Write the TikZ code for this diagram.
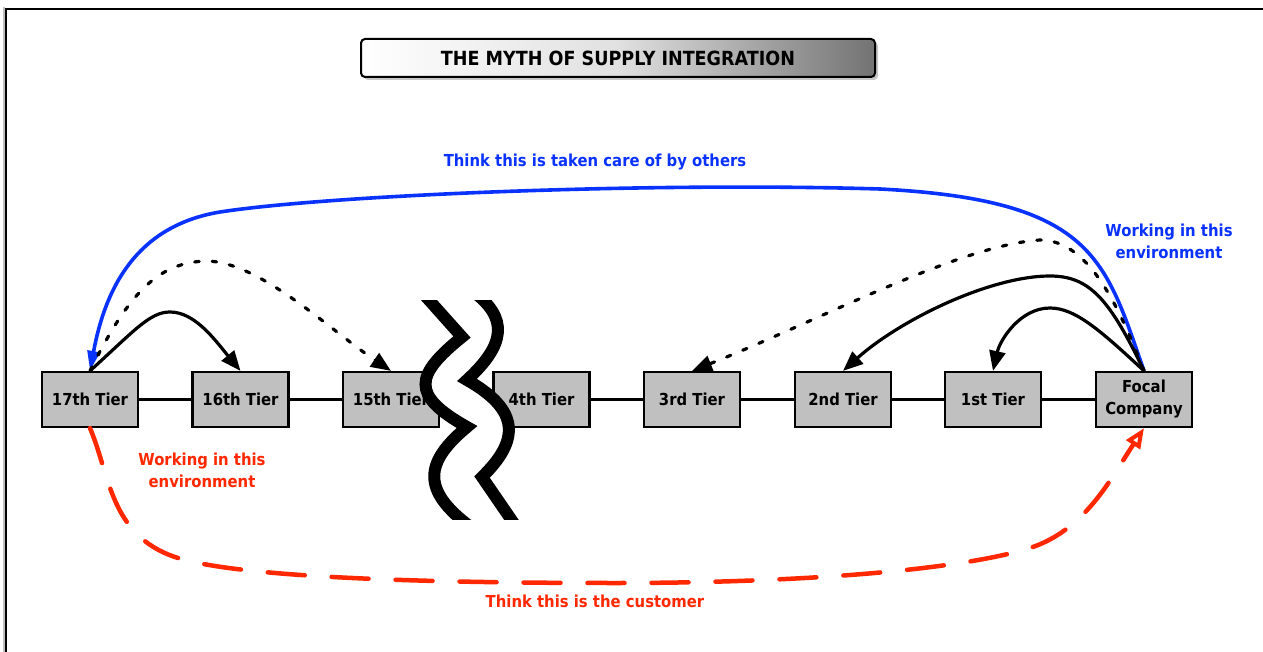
\documentclass[tikz,border=0pt]{standalone}
\usepackage{fontspec}
\setmainfont{DejaVu Sans}[FakeStretch=0.9]
\usetikzlibrary{arrows.meta}
\definecolor{tierfill}{RGB}{192,192,192}
\definecolor{noteblue}{RGB}{10,50,255}
\definecolor{notered}{RGB}{255,40,0}
\begin{document}
\begin{tikzpicture}[x=1pt,y=-1pt,
  labelfont/.style={font=\fontsize{16.5}{22}\selectfont\bfseries},
  tierbox/.style={draw, line width=2.2pt, fill=tierfill, minimum width=96pt,
    minimum height=55pt, inner sep=0pt, align=center, labelfont},
  titlebox/.style={draw, line width=2pt, rounded corners=4pt, minimum width=514pt,
    minimum height=38pt, inner sep=0pt, left color=white, right color=black!55,
    middle color=black!12, font=\fontsize{19.5}{22}\selectfont\bfseries},
  titleshadow/.style={fill=black!22, rounded corners=4pt, minimum width=514pt,
    minimum height=38pt, inner sep=0pt},
  link/.style={line width=2.4pt},
  flow/.style={line width=3.2pt, -{Triangle[length=20pt,width=16pt]}},
  dotflow/.style={flow, dash pattern=on 4.5pt off 13pt, line cap=round},
  blueflow/.style={noteblue, line width=3.6pt, -{Triangle[length=20pt,width=12pt]}},
  redflow/.style={notered, line width=4.5pt, line cap=round, dash pattern=on 37pt off 27pt,
    -{Triangle[open, length=20pt, width=16pt, line width=4pt]}},
  bluenote/.style={text=noteblue, align=center, labelfont},
  rednote/.style={text=notered, align=center, labelfont},
  wave/.style={line width=12pt, line join=miter}
]
\useasboundingbox (0,0) rectangle (1263,652);

% page frame with a soft shadow on its left
\draw[black!25, line width=2pt] (3.5,660) -- (3.5,7);
\draw[line width=2.5pt] (6,670) -- (6,9) -- (1280,9);

% title banner
\node[titleshadow] (titleshade) at (621,61) {};
\node[titlebox] (title) at (618,58) {THE MYTH OF SUPPLY INTEGRATION};

% supply chain tiers
\node[tierbox] (t17) at (90,399.5) {17th Tier};
\node[tierbox] (t16) at (240.5,399.5) {16th Tier};
\node[tierbox] (t15) at (391,399.5) {15th Tier};
\node[tierbox] (t4) at (541.5,399.5) {4th Tier};
\node[tierbox] (t3) at (692,399.5) {3rd Tier};
\node[tierbox] (t2) at (843,399.5) {2nd Tier};
\node[tierbox] (t1) at (993,399.5) {1st Tier};
\node[tierbox] (focal) at (1144,399.5) {Focal\\Company};

\draw[link] (t17.east) -- (t16.west);
\draw[link] (t16.east) -- (t15.west);
\draw[link] (t15.east) -- (t4.west);
\draw[link] (t4.east) -- (t3.west);
\draw[link] (t3.east) -- (t2.west);
\draw[link] (t2.east) -- (t1.west);
\draw[link] (t1.east) -- (focal.west);

% break in the chain
\begin{scope}
  \clip (380,300) rectangle (560,519);
  \fill[white] (420,290) -- (462,337) .. controls (415,375) and (410,395) .. (467,427)
    .. controls (425,462) and (420,490) .. (472,528) -- (517,528) -- (482,477)
    .. controls (520,440) and (520,410) .. (467,380)
    .. controls (505,345) and (510,318) .. (471,290) -- cycle;
  \draw[wave] (420,290) -- (462,337) .. controls (415,375) and (410,395) .. (467,427)
    .. controls (425,462) and (420,490) .. (472,528);
  \draw[wave] (471,290) .. controls (510,318) and (505,345) .. (467,380)
    .. controls (520,410) and (520,440) .. (482,477) -- (517,528);
\end{scope}

% flows above the chain
\draw[blueflow] (focal.north) .. controls (1105,260) and (1095,200) .. (880,189)
  .. controls (650,182) and (330,195) .. (220,212)
  .. controls (135,226) and (105,290) .. (t17.north);
\draw[dotflow] (t17.north) .. controls (130,290) and (160,262) .. (207,261)
  .. controls (260,262) and (330,330) .. (t15.north);
\draw[flow] (t17.north) .. controls (135,330) and (150,312) .. (170,312)
  .. controls (195,312) and (215,340) .. (t16.north);
\draw[dotflow] (focal.north) .. controls (1120,310) and (1090,240) .. (1040,240)
  .. controls (960,245) and (820,320) .. (t3.north);
\draw[flow] (focal.north) .. controls (1110,300) and (1090,276) .. (1050,276)
  .. controls (990,276) and (900,320) .. (t2.north);
\draw[flow] (focal.north) .. controls (1100,330) and (1075,308) .. (1050,308)
  .. controls (1020,308) and (1000,340) .. (t1.north);

% flow below the chain
\draw[redflow] (t17.south) .. controls (110,475) and (110,535) .. (175,557)
  .. controls (240,579) and (450,583) .. (616,583)
  .. controls (800,583) and (960,570) .. (1030,548)
  .. controls (1085,530) and (1110,480) .. (focal.south);

% notes
\node[bluenote] (topnote) at (595,162) {Think this is taken care of by others};
\node[bluenote] (envblue) at (1169,241) {Working in this\\environment};
\node[rednote] (envred) at (202,470) {Working in this\\environment};
\node[rednote] (custnote) at (595,601) {Think this is the customer};
\end{tikzpicture}
\end{document}
